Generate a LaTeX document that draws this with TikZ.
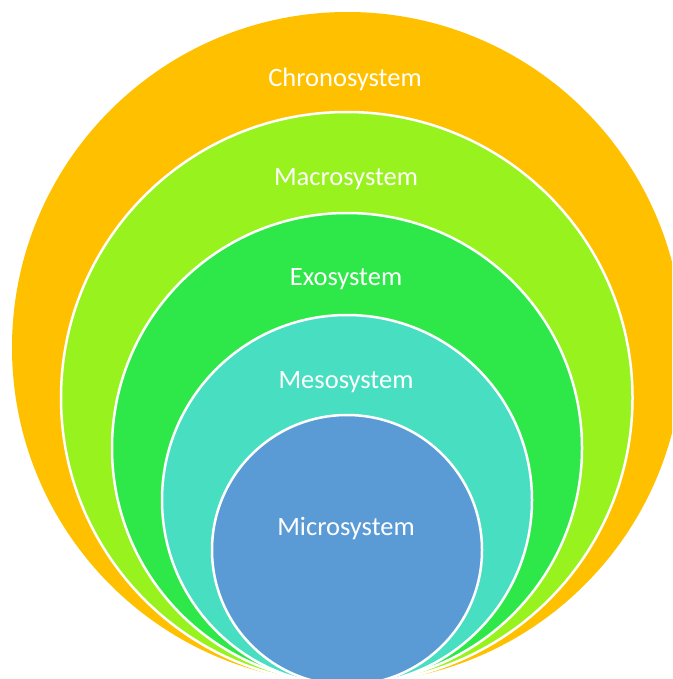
\documentclass[tikz,border=0pt]{standalone}
\usepackage{fontspec}
\setmainfont{Carlito}
\definecolor{chrono}{HTML}{FFC000}
\definecolor{macro}{HTML}{97F21D}
\definecolor{exo}{HTML}{2EE84A}
\definecolor{meso}{HTML}{48DEC1}
\definecolor{micro}{HTML}{5B9BD5}
\begin{document}
\begin{tikzpicture}[x=1pt,y=-1pt,
  ring/.style={draw=white,line width=2.5pt},
  lbl/.style={text=white,font=\fontsize{26.5}{30}\selectfont,inner sep=0pt}]
\useasboundingbox (0,0) rectangle (672,679);
\clip (0,0) rectangle (672,679);
\fill[chrono] (347.5,347.5) circle[radius=335.5];
\filldraw[ring,fill=macro] (346.75,397.75) circle[radius=285.75];
\filldraw[ring,fill=exo] (347,448) circle[radius=235];
\filldraw[ring,fill=meso] (347,500) circle[radius=185];
\filldraw[ring,fill=micro] (347,550) circle[radius=135];
\node[lbl] (chronoL) at (345,79) {Chronosystem};
\node[lbl] (macroL) at (346,179) {Macrosystem};
\node[lbl] (exoL) at (346,279) {Exosystem};
\node[lbl] (mesoL) at (346,382) {Mesosystem};
\node[lbl] (microL) at (346,529) {Microsystem};
\end{tikzpicture}
\end{document}
